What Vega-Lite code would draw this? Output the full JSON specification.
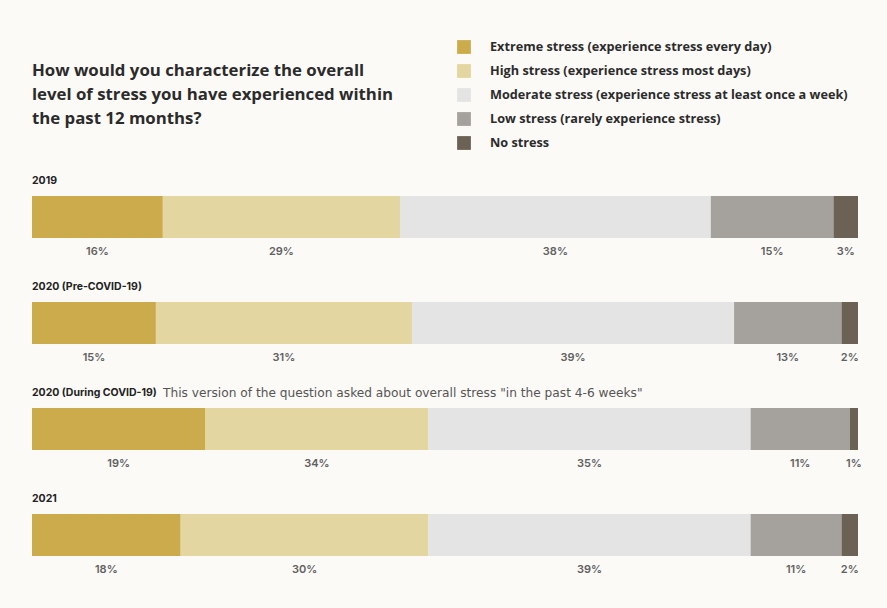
{
  "$schema": "https://vega.github.io/schema/vega-lite/v6.json",
  "width": 826,
  "height": 360,
  "autosize": {"type": "none"},
  "padding": {"left": 32, "top": 196, "right": 29, "bottom": 52},
  "background": "#fcfaf7",
  "config": {"font": "Inter", "view": {"stroke": null}},
  "title": {
    "text": ["How would you characterize the overall", "level of stress you have experienced within", "the past 12 months?"],
    "anchor": "start",
    "frame": "group",
    "font": "Open Sans",
    "fontSize": 16.8,
    "fontWeight": 700,
    "lineHeight": 24,
    "color": "#2b2b2b",
    "offset": -88
  },
  "datasets": {
    "stress": [
      {"row": "2019", "level": "Extreme stress (experience stress every day)", "order": 1, "value": 16, "label": "16%"},
      {"row": "2019", "level": "High stress (experience stress most days)", "order": 2, "value": 29, "label": "29%"},
      {"row": "2019", "level": "Moderate stress (experience stress at least once a week)", "order": 3, "value": 38, "label": "38%"},
      {"row": "2019", "level": "Low stress (rarely experience stress)", "order": 4, "value": 15, "label": "15%"},
      {"row": "2019", "level": "No stress", "order": 5, "value": 3, "label": "3%"},
      {"row": "2020 (Pre-COVID-19)", "level": "Extreme stress (experience stress every day)", "order": 1, "value": 15, "label": "15%"},
      {"row": "2020 (Pre-COVID-19)", "level": "High stress (experience stress most days)", "order": 2, "value": 31, "label": "31%"},
      {"row": "2020 (Pre-COVID-19)", "level": "Moderate stress (experience stress at least once a week)", "order": 3, "value": 39, "label": "39%"},
      {"row": "2020 (Pre-COVID-19)", "level": "Low stress (rarely experience stress)", "order": 4, "value": 13, "label": "13%"},
      {"row": "2020 (Pre-COVID-19)", "level": "No stress", "order": 5, "value": 2, "label": "2%"},
      {"row": "2020 (During COVID-19)", "level": "Extreme stress (experience stress every day)", "order": 1, "value": 21, "label": "19%"},
      {"row": "2020 (During COVID-19)", "level": "High stress (experience stress most days)", "order": 2, "value": 27, "label": "34%"},
      {"row": "2020 (During COVID-19)", "level": "Moderate stress (experience stress at least once a week)", "order": 3, "value": 39, "label": "35%"},
      {"row": "2020 (During COVID-19)", "level": "Low stress (rarely experience stress)", "order": 4, "value": 12, "label": "11%"},
      {"row": "2020 (During COVID-19)", "level": "No stress", "order": 5, "value": 1, "label": "1%"},
      {"row": "2021", "level": "Extreme stress (experience stress every day)", "order": 1, "value": 18, "label": "18%"},
      {"row": "2021", "level": "High stress (experience stress most days)", "order": 2, "value": 30, "label": "30%"},
      {"row": "2021", "level": "Moderate stress (experience stress at least once a week)", "order": 3, "value": 39, "label": "39%"},
      {"row": "2021", "level": "Low stress (rarely experience stress)", "order": 4, "value": 11, "label": "11%"},
      {"row": "2021", "level": "No stress", "order": 5, "value": 2, "label": "2%"}
    ],
    "rows": [
      {"row": "2019", "note": ""},
      {"row": "2020 (Pre-COVID-19)", "note": ""},
      {"row": "2020 (During COVID-19)", "note": "This version of the question asked about overall stress \"in the past 4-6 weeks\""},
      {"row": "2021", "note": ""}
    ]
  },
  "layer": [
    {
      "data": {"name": "stress"},
      "transform": [
        {"stack": "value", "groupby": ["row"], "sort": [{"field": "order", "order": "ascending"}], "offset": "normalize", "as": ["v0", "v1"]},
        {"calculate": "(datum.v0 + datum.v1) / 2", "as": "mid"}
      ],
      "layer": [
        {
          "mark": {"type": "bar", "cornerRadius": 0},
          "encoding": {
            "x": {"field": "v0", "type": "quantitative", "scale": {"domain": [0, 1], "nice": false, "zero": true}, "axis": null},
            "x2": {"field": "v1"},
            "y": {"field": "row", "type": "nominal", "sort": ["2019", "2020 (Pre-COVID-19)", "2020 (During COVID-19)", "2021"], "scale": {"paddingInner": 0.6038, "paddingOuter": 0}, "axis": null},
            "color": {
              "field": "level",
              "type": "nominal",
              "sort": ["Extreme stress (experience stress every day)", "High stress (experience stress most days)", "Moderate stress (experience stress at least once a week)", "Low stress (rarely experience stress)", "No stress"],
              "scale": {
                "domain": ["Extreme stress (experience stress every day)", "High stress (experience stress most days)", "Moderate stress (experience stress at least once a week)", "Low stress (rarely experience stress)", "No stress"],
                "range": ["#cbab4c", "#e4d6a0", "#e4e4e4", "#a5a19d", "#6b6155"]
              },
              "legend": {
                "orient": "none",
                "legendX": 425,
                "legendY": -156,
                "title": null,
                "symbolType": "square",
                "symbolSize": 190,
                "symbolStrokeWidth": 0,
                "symbolOpacity": 1,
                "labelFont": "Open Sans",
                "labelFontSize": 12.7,
                "labelFontWeight": 700,
                "labelColor": "#2b2b2b",
                "labelOffset": 19,
                "labelLimit": 600,
                "rowPadding": 10,
                "padding": 0
              }
            },
            "order": {"field": "order", "type": "quantitative"}
          }
        },
        {
          "mark": {"type": "text", "fontSize": 11, "fontWeight": 600, "color": "#606060", "baseline": "middle", "dy": 35},
          "encoding": {
            "x": {"field": "mid", "type": "quantitative"},
            "y": {"field": "row", "type": "nominal", "sort": ["2019", "2020 (Pre-COVID-19)", "2020 (During COVID-19)", "2021"]},
            "text": {"field": "label"}
          }
        }
      ]
    },
    {
      "data": {"name": "rows"},
      "layer": [
        {
          "mark": {"type": "text", "fontSize": 10.5, "fontWeight": 700, "color": "#222222", "align": "left", "baseline": "middle", "dy": -36},
          "encoding": {
            "x": {"datum": 0, "type": "quantitative"},
            "y": {"field": "row", "type": "nominal", "sort": ["2019", "2020 (Pre-COVID-19)", "2020 (During COVID-19)", "2021"]},
            "text": {"field": "row"}
          }
        },
        {
          "mark": {"type": "text", "font": "DejaVu Sans", "fontSize": 12.2, "fontWeight": 400, "color": "#555555", "align": "left", "baseline": "middle", "dy": -36, "dx": 131},
          "encoding": {
            "x": {"datum": 0, "type": "quantitative"},
            "y": {"field": "row", "type": "nominal", "sort": ["2019", "2020 (Pre-COVID-19)", "2020 (During COVID-19)", "2021"]},
            "text": {"field": "note"}
          }
        }
      ]
    }
  ]
}
